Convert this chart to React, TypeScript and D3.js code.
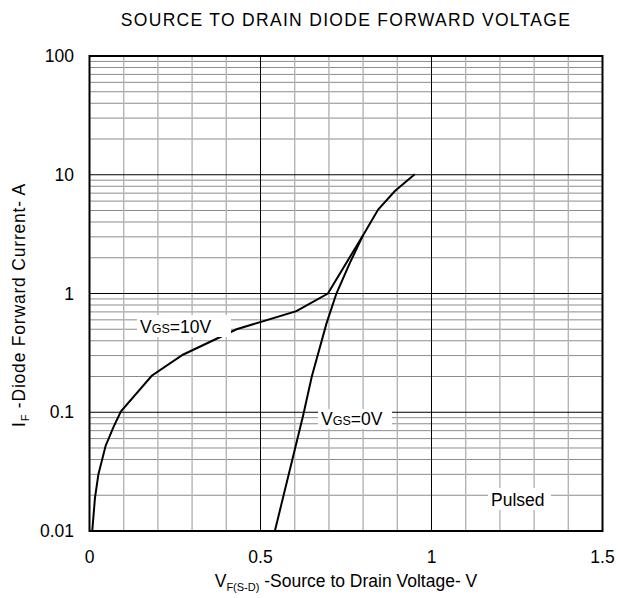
import React from "react";
import * as d3 from "d3";

const title = "SOURCE TO DRAIN DIODE FORWARD VOLTAGE";
const xTicks = [0, 0.5, 1, 1.5];
const xTickLabels = ["0", "0.5", "1", "1.5"];
const yTicks = [0.01, 0.1, 1, 10, 100];
const yTickLabels = ["0.01", "0.1", "1", "10", "100"];

// VGS=10V curve: [V, A]
const vgs10V: [number, number][] = [
  [0.008, 0.01], [0.016, 0.019], [0.026, 0.03], [0.047, 0.052], [0.07, 0.075],
  [0.092, 0.102], [0.182, 0.203], [0.273, 0.305], [0.43, 0.5], [0.605, 0.71],
  [0.697, 1.0], [0.8, 3.1], [0.844, 5.1], [0.893, 7.3], [0.951, 10.1],
];
// VGS=0V curve
const vgs0V: [number, number][] = [
  [0.542, 0.01], [0.625, 0.095], [0.65, 0.2], [0.693, 0.56], [0.722, 1.0],
  [0.761, 1.8], [0.8, 3.1],
];

export default function App() {
  const W = 618, H = 598;
  const x = d3.scaleLinear().domain([0, 1.5]).range([89.5, 602.5]);
  const y = d3.scaleLog().domain([0.01, 100]).range([531, 56]);
  const line = d3.line<[number, number]>().x(d => x(d[0])).y(d => y(d[1]));
  const font = "'Liberation Sans', Arial, sans-serif";

  const minorX: number[] = [];
  for (let i = 1; i < 15; i++) if (i % 5 !== 0) minorX.push(i / 10);
  const majorX = [0.5, 1.0];
  const minorY: number[] = [];
  for (let e = -2; e < 2; e++) for (let k = 2; k <= 9; k++) minorY.push(k * Math.pow(10, e));
  const majorY = [0.1, 1, 10];

  const x0 = x(0), x1 = x(1.5), y0 = y(0.01), y1 = y(100);

  return (
    <svg width={W} height={H} style={{ position: "absolute", left: 0, top: 0, background: "#fff" }} fontFamily={font}>
      <rect x={0} y={0} width={W} height={H} fill="#fff" />
      <text x={346} y={26} textAnchor="middle" fontSize={17.5} letterSpacing={1.3}>{title}</text>
      {minorY.map((v, i) => (
        <line key={"my" + i} x1={x0} x2={x1} y1={y(v)} y2={y(v)} stroke="#8c8c8c" strokeWidth={1} />
      ))}
      {minorX.map((v, i) => (
        <line key={"mx" + i} x1={x(v)} x2={x(v)} y1={y0} y2={y1} stroke="#b4b4b4" strokeWidth={1.4} />
      ))}
      {majorY.map((v, i) => (
        <line key={"My" + i} x1={x0} x2={x1} y1={y(v)} y2={y(v)} stroke="#000" strokeWidth={1} />
      ))}
      {majorX.map((v, i) => (
        <line key={"Mx" + i} x1={x(v)} x2={x(v)} y1={y0} y2={y1} stroke="#000" strokeWidth={1} />
      ))}
      <path d={line(vgs10V) || ""} fill="none" stroke="#000" strokeWidth={2} />
      <path d={line(vgs0V) || ""} fill="none" stroke="#000" strokeWidth={2} />

      {/* labels */}
      <rect x={137} y={315} width={94} height={22} fill="#fff" />
      <text x={140} y={333} fontSize={17.5}>V<tspan fontSize={12.5}>GS</tspan>=10V</text>
      <rect x={318} y={409} width={74} height={20} fill="#fff" />
      <text x={321} y={425} fontSize={17.5}>V<tspan fontSize={12.5}>GS</tspan>=0V</text>
      <rect x={488} y={488} width={63} height={22} fill="#fff" />
      <text x={491} y={506} fontSize={17.5}>Pulsed</text>

      <rect x={x0} y={y1} width={x1 - x0} height={y0 - y1} fill="none" stroke="#000" strokeWidth={2} />

      {yTicks.map((v, i) => (
        <text key={"yt" + i} x={74} y={y(v) + 6} textAnchor="end" fontSize={17.5}>{yTickLabels[i]}</text>
      ))}
      {xTicks.map((v, i) => (
        <text key={"xt" + i} x={x(v)} y={563} textAnchor="middle" fontSize={17.5}>{xTickLabels[i]}</text>
      ))}
      <text x={346} y={587} textAnchor="middle" fontSize={17.5}>
        V<tspan fontSize={11} dy={4}>F(S-D)</tspan><tspan dy={-4}> -Source to Drain Voltage- V</tspan>
      </text>
      <text transform={`translate(25,305) rotate(-90)`} textAnchor="middle" fontSize={17.5} letterSpacing={0.8}>
        I<tspan fontSize={11} dy={4}>F</tspan><tspan dy={-4}> -Diode Forward Current- A</tspan>
      </text>
    </svg>
  );
}
